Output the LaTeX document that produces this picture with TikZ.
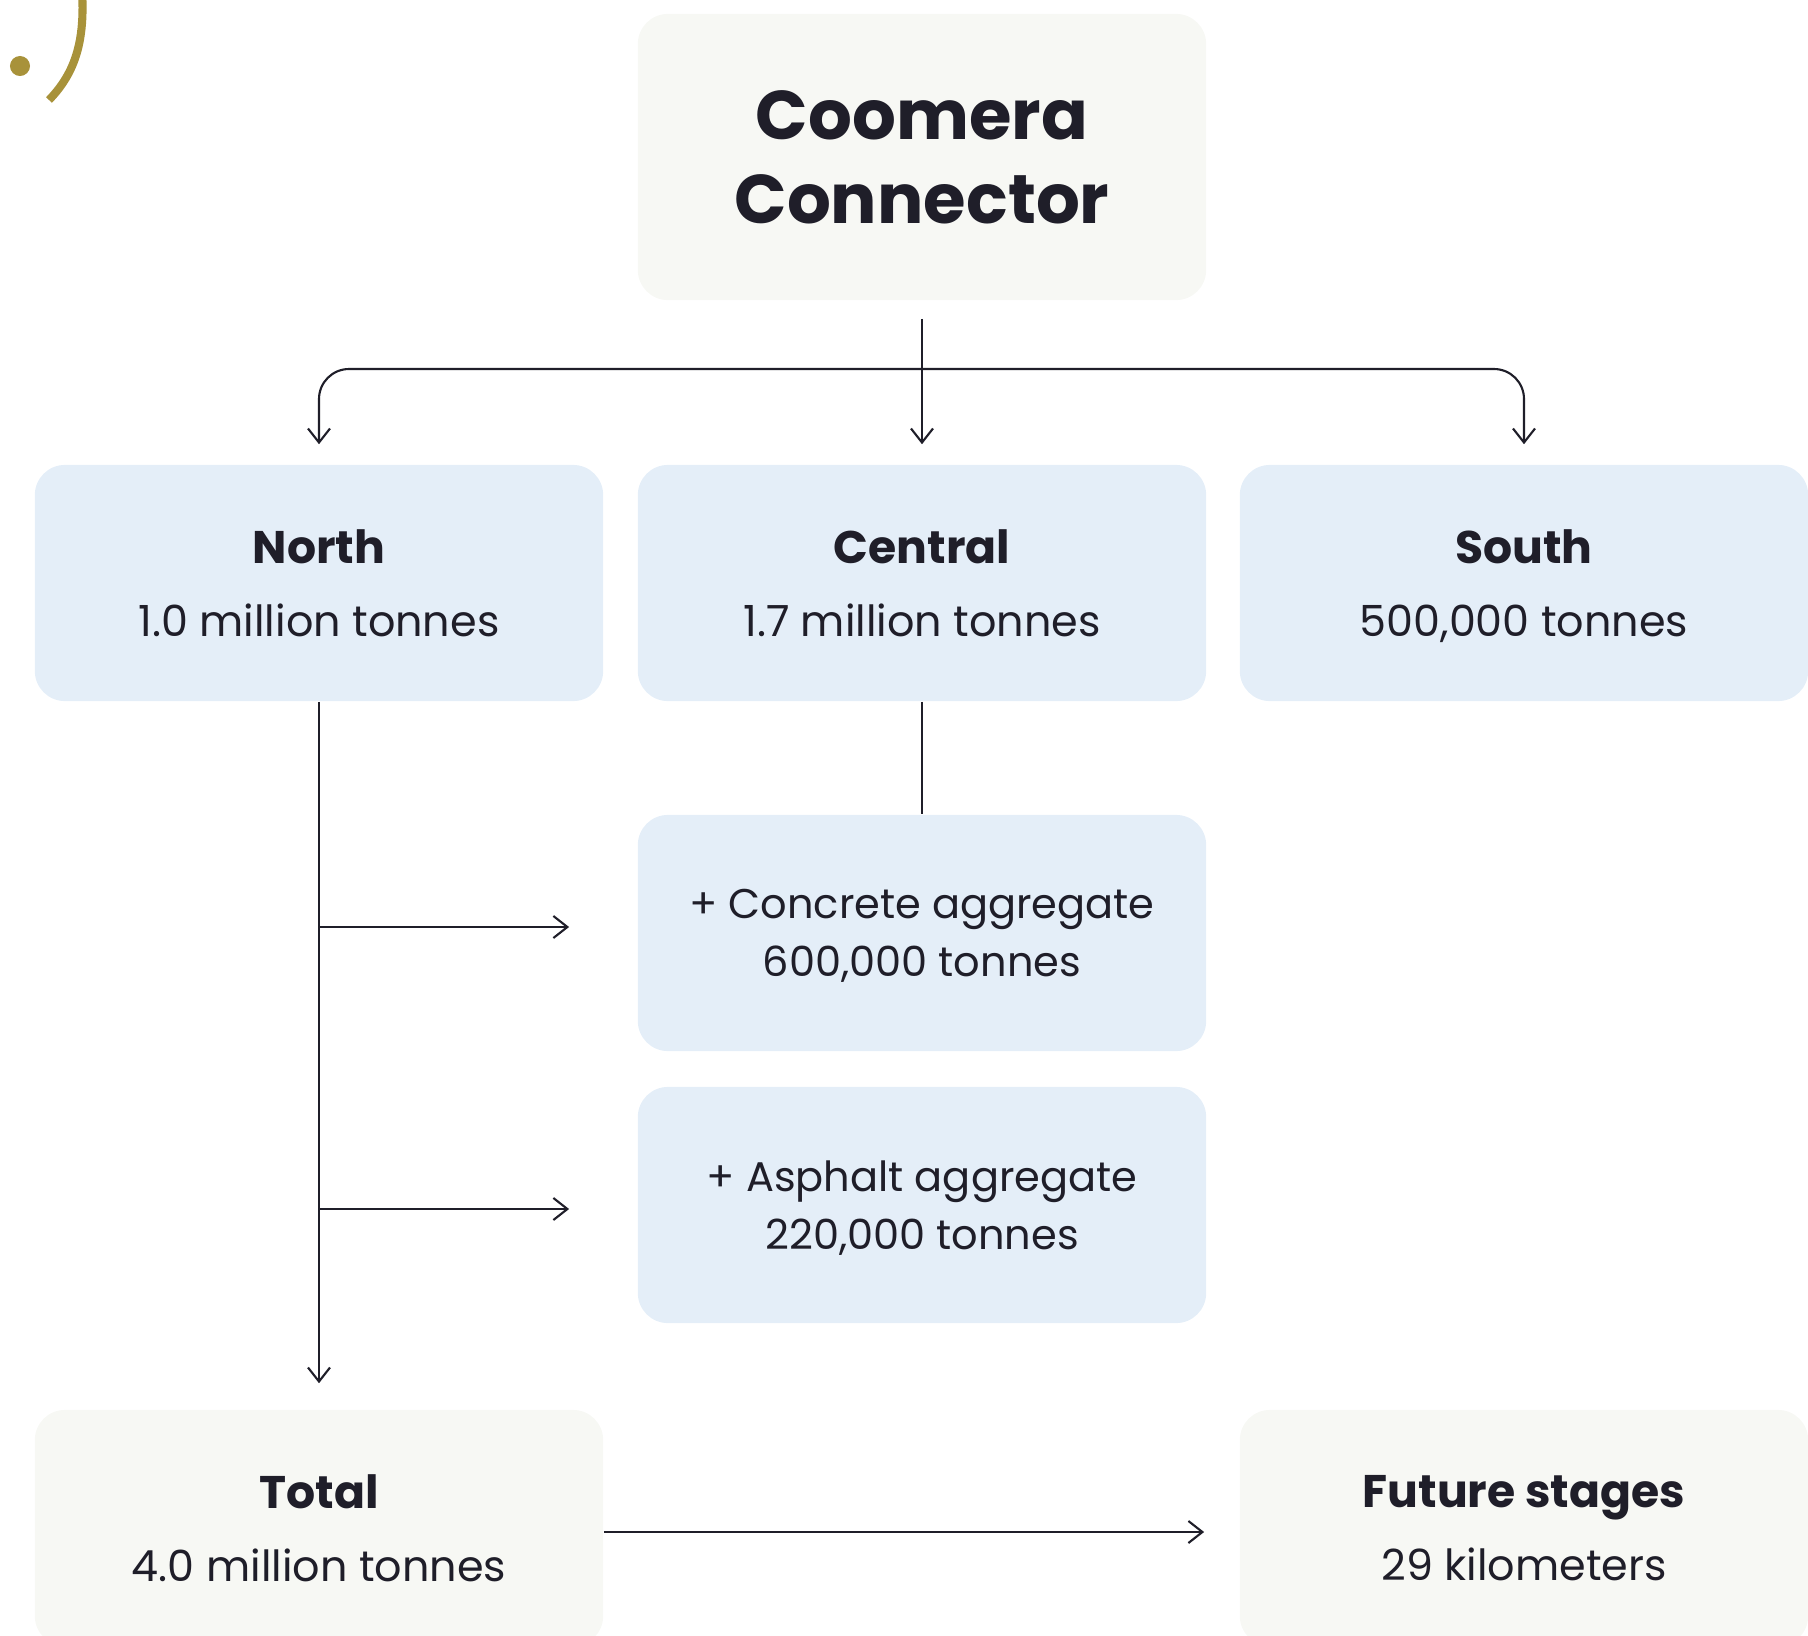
\documentclass[tikz,border=0pt]{standalone}
\usepackage{fontspec}
\setmainfont{Poppins}
\usetikzlibrary{positioning,arrows.meta}
\definecolor{boxblue}{HTML}{E4EEF8}
\definecolor{boxsand}{HTML}{F7F8F4}
\definecolor{inkdark}{HTML}{1F1E29}
\definecolor{gold}{HTML}{A8923A}
\newcommand{\stagehead}[1]{{\bfseries\fontsize{13}{20.7}\selectfont #1}}

\begin{document}
\begin{tikzpicture}[x=0.01cm,y=-0.01cm,
  >={Straight Barb[length=1.4mm,width=2.2mm]},
  stage/.style={rectangle,rounded corners=0.3cm,fill=boxblue,minimum width=5.68cm,minimum height=2.36cm,
    align=center,text=inkdark,inner sep=0pt,font=\fontsize{12.2}{20.7}\selectfont},
  result/.style={stage,fill=boxsand},
  extra/.style={stage,font=\fontsize{11.8}{16.4}\selectfont},
  link/.style={draw=inkdark,line width=0.6pt}]
\useasboundingbox (0,0) rectangle (1808,1636);
\clip (0,0) rectangle (1808,1636);

% gold mark in the corner
\fill[gold] (20,66) circle[radius=0.1cm];
\draw[gold,line width=2.3pt] (82,-10) .. controls (85,40) and (76,72) .. (49,100);

% boxes
\node[result,minimum height=2.86cm,font=\fontsize{19.6}{23.8}\selectfont\bfseries] (top) at (922,157) {Coomera\\Connector};
\node[stage] (north) at (319,583) {\stagehead{North}\\1.0 million tonnes};
\node[stage] (central) at (922,583) {\stagehead{Central}\\1.7 million tonnes};
\node[stage] (south) at (1524,583) {\stagehead{South}\\\smash{500,000 tonnes}};
\node[extra] (concrete) at (922,933) {+ Concrete aggregate\\\smash{600,000 tonnes}};
\node[extra] (asphalt) at (922,1205) {+ Asphalt aggregate\\\smash{220,000 tonnes}};
\node[result] (total) at (319,1528) {\stagehead{Total}\\4.0 million tonnes};
\node[result] (future) at (1524,1528) {\stagehead{Future stages}\\29 kilometers};

% connectors
\coordinate (fork) at (922,369);
\coordinate (cin) at ([yshift=0.06cm]concrete.west);
\coordinate (ain) at ([yshift=-0.04cm]asphalt.west);
\coordinate (tout) at ([yshift=-0.04cm]total.east);
\coordinate (fin) at ([xshift=-0.35cm]future.west);
\draw[link,->] ([yshift=-0.18cm]top.south) -- ([yshift=0.2cm]central.north);
\draw[link,<->,rounded corners=0.3cm] ([yshift=0.2cm]north.north) |- (fork) -| ([yshift=0.2cm]south.north);
\draw[link,->] (north.south) -- ([yshift=0.26cm]total.north);
\draw[link,->] (north.south |- cin) -- ([xshift=-0.68cm]cin);
\draw[link,->] (north.south |- ain) -- ([xshift=-0.68cm]ain);
\draw[link] (central.south) -- (concrete.north);
\draw[link,->] (tout) -- (tout -| fin);
\end{tikzpicture}
\end{document}
